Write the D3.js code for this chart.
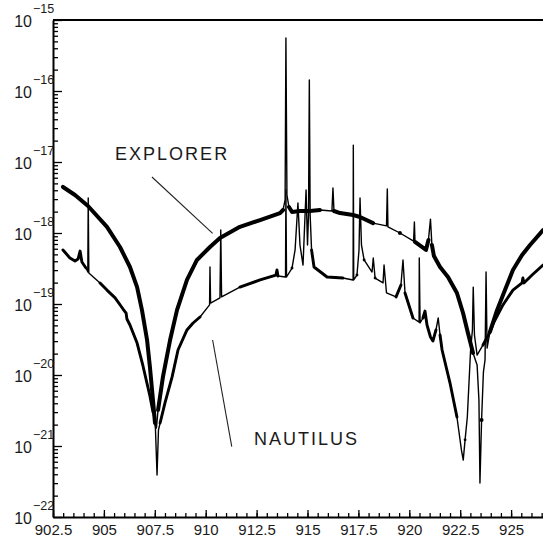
<!DOCTYPE html>
<html>
<head>
<meta charset="utf-8">
<title>Explorer / Nautilus spectra</title>
<script src="https://d3js.org/d3.v7.min.js"></script>
<style>
    body { margin: 0; background: #fff; }
    svg { display: block; }
    text { font-family: 'Liberation Sans', Arial, sans-serif; fill: #1a1a1a; }
    .axis path, .axis line { stroke: #000; }
    .axis path { stroke-width: 2; }
    .axis line { stroke-width: 1.3; }
</style>
</head>
<body>
<svg id="chart" width="543" height="546"></svg>
<script>
// frequency (Hz) and strain spectrum (1/Hz)
const explorerFreq = [902.99, 903.58, 904.22, 905.15, 905.79, 906.28, 906.63, 906.87, 907.12, 907.26,
    907.41, 907.51, 907.58, 907.66, 907.90, 908.25, 908.59, 909.08, 909.57, 910.21,
    910.70, 911.68, 912.67, 913.65, 913.80, 913.90, 913.94, 913.99, 914.09, 914.24,
    914.63, 915.12, 915.61, 916.20, 916.25, 916.30, 916.60, 917.24, 917.58, 918.22,
    918.88, 918.92, 918.95, 919.54, 920.21, 920.25, 920.28, 920.82, 920.94, 921.04,
    921.11, 921.21, 921.51, 921.90, 922.34, 922.64, 922.88, 923.13, 923.33, 923.42,
    923.47, 923.55, 923.64, 923.72, 923.77, 923.82, 923.96, 924.31, 924.70, 925.09,
    925.54, 925.93, 926.57];
const explorerAmp = [4.45e-18, 3.43e-18, 2.40e-18, 1.22e-18, 6.35e-19, 3.32e-19, 1.73e-19, 8.2e-20, 3.11e-20, 1.30e-20,
    4.45e-21, 2.11e-21, 1.79e-21, 3.21e-21, 9.4e-21, 3.11e-20, 8.2e-20, 2.18e-19, 4.17e-19, 6.35e-19,
    8.5e-19, 1.22e-18, 1.52e-18, 1.91e-18, 2.11e-18, 2.92e-18, 5.57e-16, 3.43e-18, 2.32e-18, 1.98e-18,
    2.04e-18, 2.04e-18, 2.11e-18, 2.04e-18, 4.31e-18, 2.04e-18, 1.91e-18, 1.79e-18, 1.68e-18, 1.38e-18,
    1.26e-18, 4.17e-18, 1.22e-18, 1.0e-18, 7.7e-19, 1.43e-18, 7.47e-19, 5.77e-19, 7.96e-19, 1.57e-18,
    6.78e-19, 4.74e-19, 3.32e-19, 2.40e-19, 1.43e-19, 7.46e-20, 3.91e-20, 2.04e-20, 1.38e-20, 4.45e-21,
    3.01e-22, 2.32e-21, 1.10e-20, 1.63e-20, 2.82e-19, 2.40e-20, 4.04e-20, 8.2e-20, 1.57e-19, 3.01e-19,
    4.90e-19, 6.78e-19, 1.10e-18];

const nautilusFreq = [902.99, 903.33, 903.58, 903.73, 903.83, 903.92, 904.12, 904.21, 904.23, 904.26,
    904.81, 905.15, 905.55, 905.94, 906.09, 906.13, 906.28, 906.63, 906.92, 907.26,
    907.41, 907.53, 907.61, 907.68, 907.76, 908.00, 908.35, 908.64, 909.08, 909.38,
    909.72, 910.19, 910.21, 910.24, 910.70, 910.74, 910.78, 911.68, 912.67, 913.45,
    913.50, 913.55, 913.92, 913.94, 913.97, 914.24, 914.39, 914.53, 914.63, 914.78,
    914.93, 915.00, 915.05, 915.09, 915.13, 915.20, 915.32, 915.96, 916.74, 917.24,
    917.25, 917.27, 917.43, 917.53, 917.58, 917.65, 917.78, 918.17, 918.23, 918.32,
    918.71, 918.76, 918.88, 919.35, 919.59, 919.69, 919.79, 920.18, 920.48, 920.49,
    920.53, 920.67, 920.77, 920.87, 921.04, 921.16, 921.31, 921.42, 921.51, 921.61,
    922.00, 922.34, 922.56, 922.65, 922.74, 922.85, 923.01, 923.10, 923.14, 923.20,
    923.33, 923.62, 923.96, 924.16, 924.60, 925.09, 925.54, 925.58, 925.63, 926.03,
    926.57];
const nautilusAmp = [5.77e-19, 4.45e-19, 4.04e-19, 4.30e-19, 5.57e-19, 3.91e-19, 3.21e-19, 2.82e-19, 3.11e-18, 2.73e-19,
    1.98e-19, 1.57e-19, 1.22e-19, 8.5e-20, 7.46e-20, 6.15e-20, 5.06e-20, 2.82e-20, 1.34e-20, 5.06e-21,
    3.01e-21, 1.79e-21, 3.91e-22, 1.68e-21, 2.11e-21, 4.04e-21, 9.4e-21, 2.25e-20, 4.31e-20, 5.40e-20,
    6.56e-20, 9.7e-20, 3.32e-19, 1.03e-19, 1.22e-19, 1.10e-18, 1.26e-19, 1.73e-19, 2.18e-19, 2.56e-19,
    3.01e-19, 2.48e-19, 2.40e-19, 4.04e-18, 2.40e-19, 3.21e-19, 5.77e-19, 2.65e-18, 6.78e-19, 3.54e-19,
    4.04e-18, 6.78e-19, 1.79e-18, 1.43e-16, 1.79e-18, 5.77e-19, 3.32e-19, 2.40e-19, 2.32e-19, 2.18e-19,
    1.73e-17, 2.18e-19, 2.56e-19, 5.77e-19, 3.11e-18, 6.78e-19, 4.17e-19, 2.82e-19, 4.45e-19, 2.32e-19,
    1.98e-19, 3.54e-19, 1.43e-19, 1.26e-19, 1.85e-19, 4.17e-19, 1.43e-19, 6.35e-20, 5.57e-20, 4.45e-19,
    5.40e-20, 6.35e-20, 7.96e-20, 5.06e-20, 3.43e-20, 3.01e-20, 4.31e-20, 6.35e-20, 3.66e-20, 2.25e-20,
    7.7e-21, 2.56e-21, 8.8e-22, 6.35e-22, 1.22e-21, 2.56e-21, 2.25e-20, 4.31e-20, 1.73e-19, 3.66e-20,
    1.91e-20, 2.65e-20, 4.04e-20, 5.57e-20, 9.7e-20, 1.57e-19, 1.98e-19, 2.32e-19, 1.98e-19, 2.56e-19,
    3.54e-19];

const xTickValues = [902.5, 905, 907.5, 910, 912.5, 915, 917.5, 920, 922.5, 925];
const yDecades = [-22, -21, -20, -19, -18, -17, -16, -15];

// annotation: label, text anchor point, leader start, leader end (data units)
const annotations = [
    { name: "EXPLORER", text: [905.55, 1.07e-17], from: [907.36, 6.15e-18], to: [910.34, 9.9e-19] },
    { name: "NAUTILUS", text: [912.37, 1.03e-21], from: [910.34, 3.11e-20], to: [911.28, 9.8e-22] }
];

const svg = d3.select("#chart");
const plotLeft = 53, plotTop = 20, plotBottom = 517;

const x = d3.scaleLinear().domain([902.5, 927.5]).range([plotLeft, 562]);
const y = d3.scaleLog().domain([1e-22, 1e-15]).range([plotBottom, plotTop]);

// frame: top line
svg.append("line")
    .attr("x1", plotLeft).attr("x2", 543)
    .attr("y1", plotTop).attr("y2", plotTop)
    .attr("stroke", "#000").attr("stroke-width", 2);

// x axis, minor then major ticks
const xMinor = d3.range(902.5, 927.51, 0.5);
svg.append("g").attr("class", "axis")
    .attr("transform", `translate(0,${plotBottom})`)
    .call(d3.axisBottom(x).tickValues(xMinor).tickSize(-4).tickSizeOuter(0).tickFormat(""));
const gx = svg.append("g").attr("class", "axis")
    .attr("transform", `translate(0,${plotBottom})`)
    .call(d3.axisBottom(x).tickValues(xTickValues).tickSize(-7).tickSizeOuter(0).tickPadding(7)
        .tickFormat(d => d));
gx.selectAll("text").style("font-size", "15px").attr("fill", "#1a1a1a");
gx.select(".domain").remove();

// y axis, log minor ticks
const yMinor = [];
yDecades.slice(0, -1).forEach(e => { for (let k = 2; k <= 9; k++) yMinor.push(k * Math.pow(10, e)); });
svg.append("g").attr("class", "axis")
    .attr("transform", `translate(${plotLeft},0)`)
    .call(d3.axisLeft(y).tickValues(yMinor).tickSize(-5).tickSizeOuter(0).tickFormat(""));
const gy = svg.append("g").attr("class", "axis")
    .attr("transform", `translate(${plotLeft},0)`)
    .call(d3.axisLeft(y).tickValues(yDecades.map(e => Math.pow(10, e))).tickSize(-9).tickSizeOuter(0).tickFormat(""));
gy.select(".domain").remove();

// y labels as 10 with superscript exponent
const yl = svg.append("g");
yDecades.forEach(e => {
    const yy = y(Math.pow(10, e));
    yl.append("text")
        .attr("x", 32).attr("y", yy + 6.5)
        .attr("text-anchor", "end")
        .style("font-size", "16px")
        .text("10");
    yl.append("text")
        .attr("x", 33).attr("y", yy - 7.5)
        .style("font-size", "12.5px")
        .text("\u2212" + Math.abs(e));
});

// curves
svg.append("clipPath").attr("id", "plot-clip")
    .append("rect").attr("x", plotLeft).attr("y", plotTop - 2).attr("width", 543 - plotLeft).attr("height", plotBottom - plotTop + 2);

function makeSeries(freq, amp) {
    const pts = freq.map((f, i) => ({ f: f, v: amp[i], L: Math.log10(amp[i]) }));
    // points that stand out from their neighbours (narrow lines, deep dips) are drawn thin only
    pts.forEach((p, i) => {
        const a = pts[i - 1], b = pts[i + 1];
        p.sharp = a && b ? Math.abs(p.L - (a.L + b.L) / 2) > 0.15 : false;
    });
    return pts;
}

const series = [
    { pts: makeSeries(explorerFreq, explorerAmp), band: 4 },
    { pts: makeSeries(nautilusFreq, nautilusAmp), band: 2.9 }
];

const plot = svg.append("g").attr("clip-path", "url(#plot-clip)");
series.forEach(s => {
    const band = d3.line().defined(d => !d.sharp).x(d => x(d.f)).y(d => y(d.v));
    const thin = d3.line().x(d => x(d.f)).y(d => y(d.v));
    plot.append("path")
        .datum(s.pts)
        .attr("d", band)
        .attr("fill", "none")
        .attr("stroke", "#000")
        .attr("stroke-width", s.band)
        .attr("stroke-linejoin", "round")
        .attr("stroke-linecap", "round");
    plot.append("path")
        .datum(s.pts)
        .attr("d", thin)
        .attr("fill", "none")
        .attr("stroke", "#000")
        .attr("stroke-width", 1.4)
        .attr("stroke-linejoin", "round");
});

// labels with leader lines
annotations.forEach(a => {
    svg.append("line")
        .attr("x1", x(a.from[0])).attr("y1", y(a.from[1]))
        .attr("x2", x(a.to[0])).attr("y2", y(a.to[1]))
        .attr("stroke", "#222").attr("stroke-width", 1.1);
    svg.append("text")
        .attr("x", x(a.text[0])).attr("y", y(a.text[1]))
        .style("font-size", "18px")
        .style("letter-spacing", "2px")
        .attr("fill", "#2a2a2a")
        .text(a.name);
});
</script>
</body>
</html>
